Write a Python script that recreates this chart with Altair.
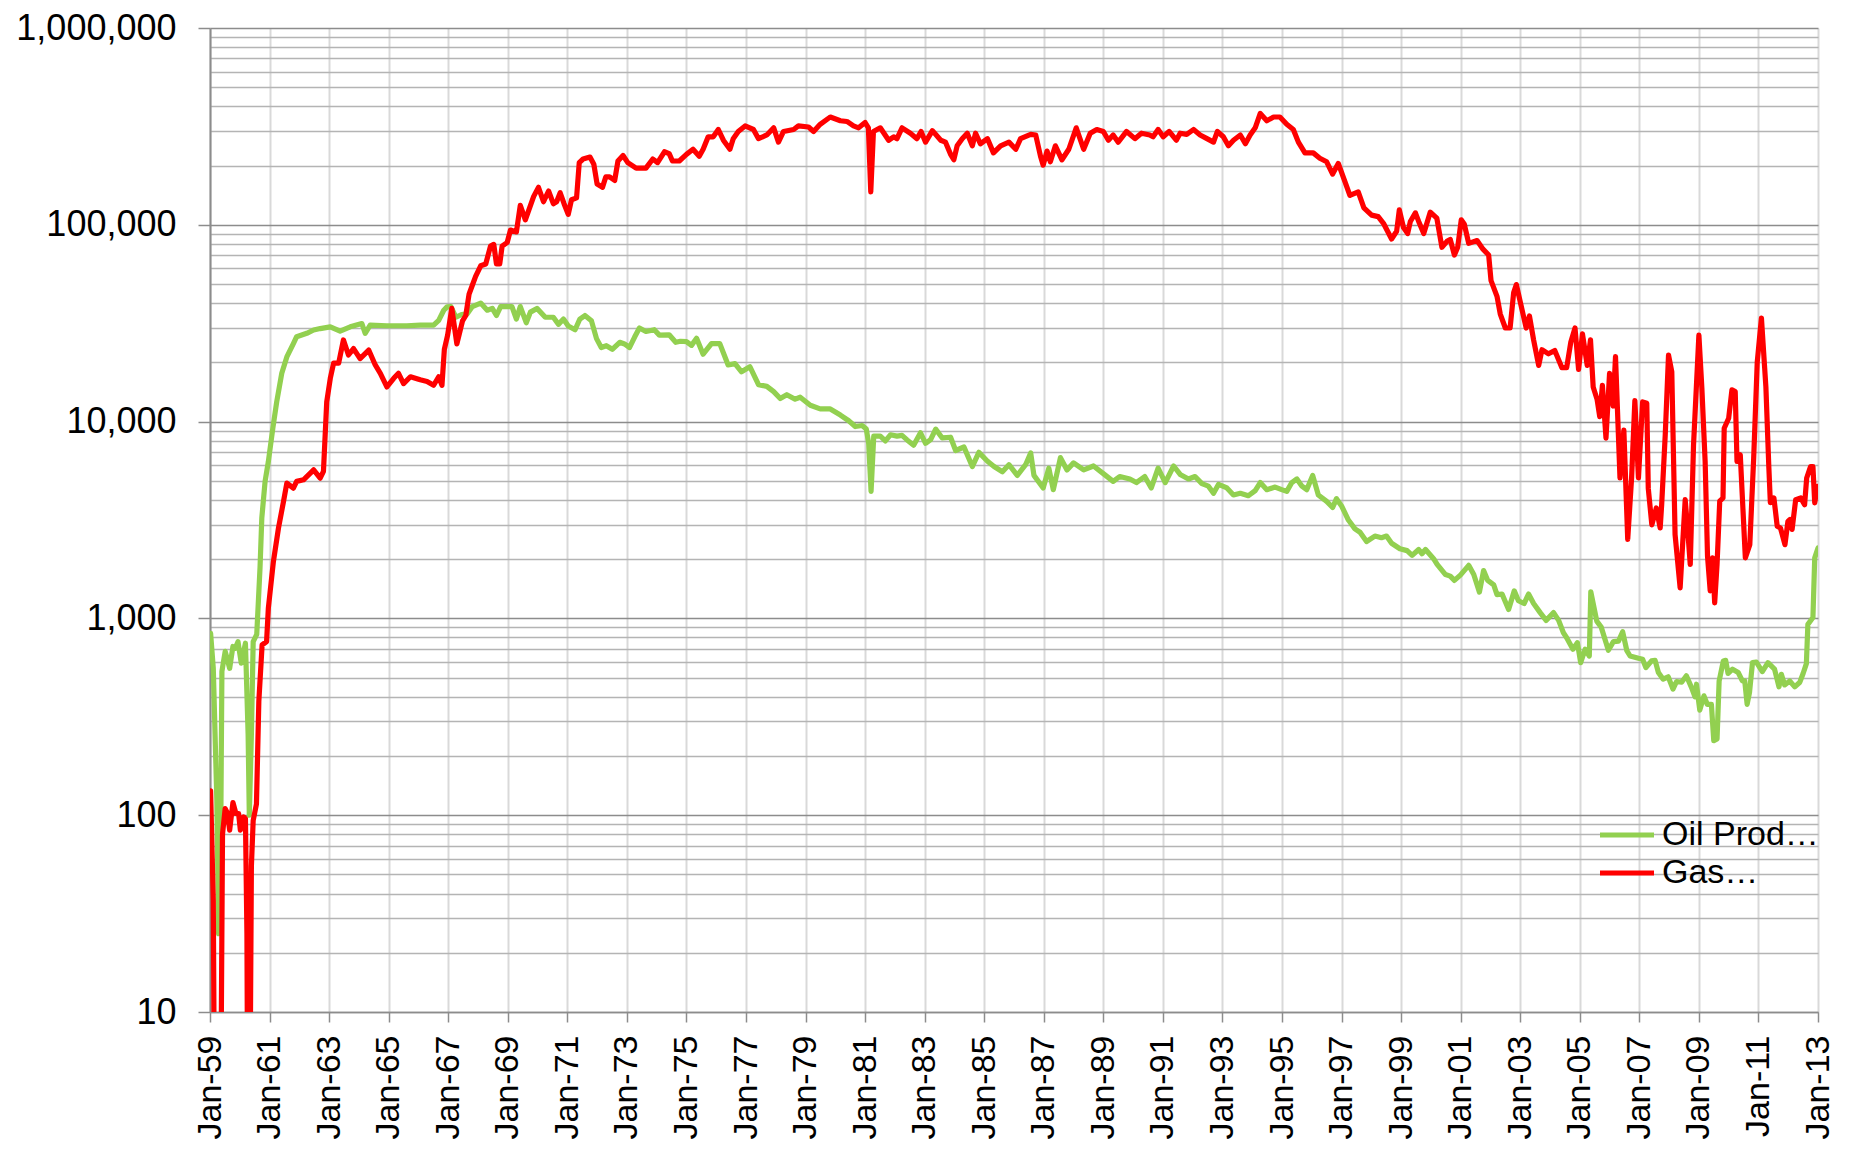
import altair as alt
import pandas as pd

# ---- Oil production (decimal year, value) ----
oil_years = [
    1959.02, 1959.11, 1959.23, 1959.29, 1959.36, 1959.40, 1959.51, 1959.66, 1959.77, 1959.85,
    1959.94, 1960.05, 1960.19, 1960.28, 1960.32, 1960.39, 1960.45, 1960.57, 1960.68, 1960.74,
    1960.85, 1960.96, 1961.11, 1961.24, 1961.41, 1961.58, 1961.80, 1961.91, 1962.25, 1962.48,
    1962.70, 1963.04, 1963.37, 1963.71, 1964.10, 1964.21, 1964.38, 1964.94, 1965.61, 1966.06,
    1966.51, 1966.68, 1966.85, 1966.96, 1967.09, 1967.26, 1967.45, 1967.64, 1967.81, 1968.09,
    1968.31, 1968.48, 1968.62, 1968.76, 1969.14, 1969.29, 1969.42, 1969.62, 1969.76, 1969.98,
    1970.26, 1970.53, 1970.70, 1970.87, 1971.03, 1971.26, 1971.42, 1971.59, 1971.81, 1971.98,
    1972.14, 1972.31, 1972.51, 1972.76, 1972.92, 1973.09, 1973.26, 1973.42, 1973.64, 1973.92,
    1974.09, 1974.42, 1974.64, 1974.80, 1975.00, 1975.17, 1975.34, 1975.56, 1975.84, 1976.12,
    1976.40, 1976.63, 1976.85, 1977.13, 1977.42, 1977.70, 1977.93, 1978.15, 1978.37, 1978.65,
    1978.82, 1979.16, 1979.49, 1979.83, 1980.17, 1980.45, 1980.67, 1980.90, 1981.04, 1981.12,
    1981.20, 1981.29, 1981.51, 1981.68, 1981.85, 1982.07, 1982.24, 1982.41, 1982.63, 1982.86,
    1983.03, 1983.20, 1983.37, 1983.59, 1983.87, 1984.04, 1984.32, 1984.60, 1984.82, 1985.11,
    1985.33, 1985.61, 1985.83, 1986.11, 1986.39, 1986.56, 1986.67, 1986.98, 1987.17, 1987.32,
    1987.56, 1987.78, 1988.00, 1988.34, 1988.67, 1989.00, 1989.33, 1989.55, 1989.89, 1990.11,
    1990.39, 1990.61, 1990.84, 1991.08, 1991.36, 1991.58, 1991.86, 1992.08, 1992.31, 1992.53,
    1992.70, 1992.87, 1993.15, 1993.37, 1993.60, 1993.87, 1994.10, 1994.27, 1994.49, 1994.77,
    1994.99, 1995.16, 1995.33, 1995.50, 1995.67, 1995.83, 1996.03, 1996.22, 1996.50, 1996.70,
    1996.83, 1997.00, 1997.23, 1997.45, 1997.62, 1997.84, 1998.12, 1998.34, 1998.51, 1998.68,
    1998.96, 1999.20, 1999.37, 1999.59, 1999.70, 1999.82, 2000.09, 2000.21, 2000.49, 2000.65,
    2000.79, 2000.99, 2001.27, 2001.44, 2001.63, 2001.77, 2001.91, 2002.11, 2002.22, 2002.39,
    2002.61, 2002.80, 2002.94, 2003.13, 2003.28, 2003.45, 2003.67, 2003.87, 2004.12, 2004.29,
    2004.45, 2004.56, 2004.77, 2004.92, 2005.03, 2005.18, 2005.32, 2005.37, 2005.57, 2005.72,
    2005.96, 2006.13, 2006.30, 2006.44, 2006.58, 2006.69, 2006.97, 2007.11, 2007.22, 2007.41,
    2007.53, 2007.64, 2007.80, 2007.97, 2008.13, 2008.25, 2008.42, 2008.58, 2008.75, 2008.87,
    2008.92, 2009.03, 2009.17, 2009.28, 2009.42, 2009.50, 2009.61, 2009.68, 2009.82, 2009.90,
    2009.98, 2010.13, 2010.32, 2010.46, 2010.54, 2010.62, 2010.70, 2010.80, 2010.93, 2011.13,
    2011.32, 2011.54, 2011.69, 2011.77, 2011.88, 2012.05, 2012.22, 2012.39, 2012.50, 2012.61,
    2012.66, 2012.83, 2012.89, 2013.00,
]
oil_values = [
    840, 558, 119, 25, 80, 538, 680, 558, 720, 705,
    762, 593, 748, 258, 100, 258, 762, 830, 1810, 3240,
    4970, 6270, 9250, 12600, 17600, 21300, 24900, 27000, 28100, 29200,
    29700, 30300, 28800, 30300, 31500, 28100, 30900, 30700, 30700, 30900,
    30900, 32700, 36800, 38300, 38400, 33900, 35000, 35300, 38400, 40000,
    36800, 37600, 34600, 38400, 38400, 33200, 38400, 31800, 36000, 37600,
    33900, 33900, 31200, 33200, 30600, 29300, 33200, 34600, 32500, 26400,
    23800, 24300, 23300, 25300, 24800, 23800, 26900, 29900, 28700, 29300,
    27500, 27600, 25300, 25600, 25500, 24400, 26500, 22000, 24900, 24900,
    19400, 19700, 17900, 19000, 15400, 15100, 14200, 13100, 13700, 13000,
    13300, 12100, 11600, 11600, 10800, 10100, 9440, 9550, 9160, 7760,
    4420, 8440, 8440, 7980, 8570, 8440, 8510, 8070, 7590, 8770,
    7760, 8090, 9160, 8260, 8330, 7130, 7430, 5910, 6980, 6290,
    5910, 5560, 6040, 5330, 6040, 6930, 5330, 4600, 5800, 4510,
    6560, 5680, 6170, 5680, 5950, 5440, 4970, 5260, 5110, 4900,
    5260, 4600, 5800, 4900, 5950, 5390, 5110, 5260, 4840, 4700,
    4320, 4800, 4600, 4240, 4320, 4200, 4460, 4900, 4510, 4650,
    4510, 4420, 4900, 5110, 4700, 4510, 5330, 4240, 3930, 3660,
    4060, 3730, 3160, 2850, 2740, 2460, 2620, 2570, 2620, 2410,
    2260, 2210, 2090, 2240, 2130, 2240, 2010, 1880, 1670, 1640,
    1560, 1660, 1860, 1670, 1360, 1750, 1560, 1480, 1320, 1330,
    1110, 1380, 1230, 1190, 1330, 1190, 1070, 977, 1070, 977,
    845, 798, 697, 753, 596, 697, 644, 1365, 969, 903,
    689, 762, 767, 856, 686, 644, 627, 620, 562, 608,
    612, 531, 491, 505, 437, 478, 474, 511, 446, 399,
    463, 342, 404, 366, 366, 239, 244, 481, 608, 612,
    525, 552, 531, 481, 481, 366, 420, 596, 600, 537,
    596, 552, 449, 520, 459, 481, 449, 474, 525, 589,
    933, 1010, 2030, 2280,
]

# ---- Gas (decimal year, value); 1 = below the axis minimum ----
gas_years = [
    1959.02, 1959.11, 1959.17, 1959.34, 1959.42, 1959.51, 1959.59, 1959.66, 1959.77, 1959.87,
    1959.96, 1960.02, 1960.13, 1960.19, 1960.24, 1960.28, 1960.32, 1960.39, 1960.45, 1960.56,
    1960.64, 1960.75, 1960.90, 1960.96, 1961.13, 1961.30, 1961.47, 1961.58, 1961.80, 1961.91,
    1962.14, 1962.48, 1962.70, 1962.81, 1962.92, 1963.04, 1963.15, 1963.32, 1963.48, 1963.65,
    1963.82, 1964.04, 1964.33, 1964.55, 1964.72, 1964.94, 1965.17, 1965.33, 1965.50, 1965.73,
    1966.06, 1966.29, 1966.51, 1966.68, 1966.79, 1966.87, 1966.98, 1967.12, 1967.29, 1967.48,
    1967.59, 1967.70, 1967.81, 1967.92, 1968.09, 1968.26, 1968.42, 1968.53, 1968.62, 1968.73,
    1968.81, 1968.98, 1969.09, 1969.29, 1969.42, 1969.59, 1969.70, 1969.87, 1970.03, 1970.20,
    1970.37, 1970.53, 1970.64, 1970.76, 1970.89, 1971.03, 1971.14, 1971.31, 1971.40, 1971.53,
    1971.76, 1971.89, 1972.00, 1972.18, 1972.29, 1972.42, 1972.59, 1972.70, 1972.87, 1973.03,
    1973.31, 1973.64, 1973.87, 1974.03, 1974.26, 1974.42, 1974.53, 1974.76, 1975.00, 1975.22,
    1975.43, 1975.56, 1975.73, 1975.90, 1976.07, 1976.24, 1976.46, 1976.57, 1976.74, 1976.97,
    1977.25, 1977.42, 1977.70, 1977.93, 1978.09, 1978.26, 1978.60, 1978.76, 1979.10, 1979.27,
    1979.49, 1979.83, 1980.17, 1980.39, 1980.61, 1980.78, 1981.00, 1981.11, 1981.19, 1981.28,
    1981.51, 1981.79, 1981.96, 1982.07, 1982.24, 1982.52, 1982.74, 1982.88, 1983.03, 1983.26,
    1983.54, 1983.70, 1983.87, 1983.98, 1984.09, 1984.26, 1984.43, 1984.60, 1984.71, 1984.87,
    1985.11, 1985.31, 1985.55, 1985.83, 1986.06, 1986.22, 1986.56, 1986.73, 1986.89, 1986.98,
    1987.11, 1987.22, 1987.39, 1987.61, 1987.84, 1988.09, 1988.34, 1988.56, 1988.78, 1989.00,
    1989.17, 1989.33, 1989.50, 1989.78, 1990.06, 1990.28, 1990.56, 1990.67, 1990.84, 1991.01,
    1991.21, 1991.45, 1991.58, 1991.80, 1992.03, 1992.25, 1992.48, 1992.70, 1992.83, 1993.03,
    1993.20, 1993.37, 1993.60, 1993.77, 1993.93, 1994.10, 1994.27, 1994.49, 1994.72, 1994.93,
    1995.16, 1995.38, 1995.55, 1995.77, 1996.05, 1996.27, 1996.50, 1996.70, 1996.89, 1997.11,
    1997.28, 1997.56, 1997.75, 1998.01, 1998.23, 1998.42, 1998.68, 1998.85, 1998.94, 1999.08,
    1999.22, 1999.31, 1999.48, 1999.59, 1999.76, 1999.98, 2000.20, 2000.37, 2000.54, 2000.65,
    2000.79, 2000.90, 2001.02, 2001.12, 2001.27, 2001.55, 2001.75, 2001.94, 2002.02, 2002.22,
    2002.33, 2002.50, 2002.66, 2002.78, 2002.87, 2003.02, 2003.20, 2003.31, 2003.45, 2003.62,
    2003.73, 2003.95, 2004.16, 2004.40, 2004.56, 2004.70, 2004.84, 2004.96, 2005.09, 2005.25,
    2005.36, 2005.45, 2005.58, 2005.67, 2005.76, 2005.88, 2006.00, 2006.12, 2006.20, 2006.35,
    2006.48, 2006.61, 2006.74, 2006.85, 2006.97, 2007.11, 2007.25, 2007.30, 2007.42, 2007.57,
    2007.70, 2007.75, 2007.87, 2007.98, 2008.09, 2008.20, 2008.37, 2008.54, 2008.62, 2008.71,
    2008.82, 2009.00, 2009.10, 2009.21, 2009.29, 2009.38, 2009.46, 2009.53, 2009.61, 2009.70,
    2009.81, 2009.85, 2010.00, 2010.11, 2010.22, 2010.28, 2010.39, 2010.56, 2010.71, 2010.84,
    2010.96, 2011.10, 2011.25, 2011.35, 2011.40, 2011.52, 2011.63, 2011.74, 2011.89, 2011.99,
    2012.06, 2012.13, 2012.25, 2012.42, 2012.55, 2012.62, 2012.75, 2012.83, 2012.89, 2012.98,
]
gas_values = [
    133, 37, 1, 1, 80, 108, 102, 84, 116, 102,
    102, 84, 98, 96, 25, 1, 1, 55, 94, 114,
    379, 733, 762, 1130, 1950, 2880, 3940, 4870, 4590, 4970,
    5060, 5690, 5160, 5580, 12600, 16600, 19800, 19800, 26000, 21800,
    23500, 20900, 23100, 19400, 17600, 15000, 16600, 17600, 15600, 16900,
    16300, 16000, 15300, 16900, 15300, 23300, 27500, 37600, 24800, 32500,
    34600, 44400, 49300, 54700, 61900, 63200, 77900, 79500, 63200, 63200,
    77900, 81300, 94000, 92000, 125700, 106000, 118000, 139500, 155000, 131000,
    148500, 128000, 131000, 145500, 128000, 113000, 134000, 137000, 207000, 216000,
    221000, 203000, 161000, 155000, 175000, 175000, 168000, 211000, 225000, 207000,
    194000, 194000, 216000, 207000, 235000, 230000, 211000, 211000, 228000, 242000,
    223000, 242000, 280000, 280000, 305000, 269000, 242000, 274000, 298000, 318000,
    305000, 274000, 286000, 311000, 263000, 298000, 305000, 318000, 314000, 298000,
    324000, 353000, 338000, 335000, 318000, 311000, 331000, 311000, 147000, 298000,
    311000, 269000, 280000, 274000, 311000, 292000, 274000, 298000, 263000, 301000,
    269000, 263000, 228000, 214000, 252000, 274000, 292000, 252000, 292000, 258000,
    274000, 232000, 252000, 263000, 242000, 274000, 288000, 286000, 223000, 201000,
    237000, 209000, 252000, 214000, 242000, 311000, 242000, 292000, 305000, 298000,
    269000, 286000, 263000, 298000, 274000, 292000, 286000, 280000, 305000, 280000,
    298000, 269000, 292000, 288000, 305000, 286000, 274000, 263000, 298000, 280000,
    252000, 269000, 286000, 258000, 286000, 311000, 368000, 338000, 353000, 353000,
    324000, 305000, 263000, 232000, 232000, 218000, 209000, 181000, 205000, 166000,
    141000, 147000, 122000, 112000, 110000, 101000, 84700, 92700, 119000, 96800,
    90300, 104000, 115000, 104000, 90300, 116000, 108000, 76900, 82400, 84300,
    70200, 76900, 106000, 101000, 80500, 83200, 75200, 70200, 52000, 43300,
    35200, 29900, 29900, 45300, 49700, 39400, 29900, 34400, 26000, 19300,
    23200, 22100, 23000, 18800, 18800, 25400, 29900, 18400, 27900, 19300,
    26000, 15000, 13000, 10600, 15300, 8240, 17600, 12000, 21400, 5170,
    9050, 2520, 5170, 12800, 5170, 12600, 12400, 4590, 2990, 3640,
    2880, 3780, 8550, 21800, 17900, 2670, 1430, 4010, 2880, 1880,
    7620, 27500, 14800, 6270, 2070, 1380, 2030, 1200, 1880, 3940,
    4090, 9250, 10400, 14500, 14200, 6270, 6780, 2030, 2370, 6520,
    20100, 33600, 15000, 5810, 3870, 4090, 2940, 2880, 2370, 3110,
    3180, 2830, 4010, 4090, 3780, 5170, 5910, 5910, 3860, 4690,
]

series_names = ["Oil Prod…", "Gas…"]
series_colors = ["#92D050", "#FF0000"]
x_tick_years = list(range(1959, 2014, 2))
decades = [10, 100, 1000, 10000, 100000, 1000000]
y_tick_values = [m * d for d in decades[:-1] for m in range(1, 10)] + [decades[-1]]

df = pd.DataFrame({
    "year": oil_years + gas_years,
    "value": oil_values + gas_values,
    "series": [series_names[0]] * len(oil_years) + [series_names[1]] * len(gas_years),
})

FONT = "Liberation Sans"
is_decade = "indexof([10,100,1000,10000,100000,1000000], datum.value) >= 0"

x_axis = alt.Axis(
    values=x_tick_years,
    labelExpr="'Jan-' + slice(toString(datum.value), 2)",
    labelAngle=-90,
    labelFont=FONT,
    labelFontSize=34,
    labelColor="#000000",
    labelPadding=13,
    labelFlush=False,
    labelOverlap=False,
    tickSize=10,
    tickColor="#8c8c8c",
    tickWidth=1.5,
    domainColor="#8c8c8c",
    domainWidth=1.5,
    grid=True,
    gridColor="#d9d9d9",
    gridWidth=2,
    title=None,
)

y_axis = alt.Axis(
    values=y_tick_values,
    labelExpr=is_decade + " ? format(datum.value, ',') : ''",
    labelFont=FONT,
    labelFontSize=36,
    labelColor="#000000",
    labelPadding=22,
    labelOverlap=False,
    labelFlush=False,
    tickSize=12,
    tickWidth=1.5,
    tickColor={"condition": {"test": is_decade, "value": "#8c8c8c"}, "value": "transparent"},
    domainColor="#8c8c8c",
    domainWidth=2,
    grid=True,
    gridColor={"condition": {"test": is_decade, "value": "#8c8c8c"}, "value": "#b4b4b4"},
    gridWidth=1.6,
    title=None,
)

base = alt.Chart(df).mark_line(
    strokeWidth=5.2, clip=True, strokeJoin="round", strokeCap="round"
).encode(
    x=alt.X("year:Q", scale=alt.Scale(domain=[1959, 2013], nice=False, zero=False), axis=x_axis),
    y=alt.Y("value:Q", scale=alt.Scale(type="log", domain=[10, 1000000], nice=False), axis=y_axis),
    color=alt.Color(
        "series:N",
        scale=alt.Scale(domain=series_names, range=series_colors),
        legend=alt.Legend(
            title=None,
            orient="none",
            legendX=1400,
            legendY=790,
            symbolType="M-2,0H2",
            symbolSize=729,
            symbolStrokeWidth=5,
            symbolFillColor="transparent",
            labelFont=FONT,
            labelFontSize=34,
            labelColor="#000000",
            labelLimit=500,
            labelOffset=18,
            rowPadding=4,
            padding=0,
        ),
    ),
)

oil_layer = base.transform_filter(alt.datum.series == series_names[0])
gas_layer = base.transform_filter(alt.datum.series == series_names[1])

chart = alt.layer(oil_layer, gas_layer).properties(
    width=1608,
    height=984,
    autosize=alt.AutoSizeParams(type="none"),
    padding={"left": 202, "top": 20, "right": 24, "bottom": 137},
).configure_view(stroke=None)

chart.save("out.html", embed_options={"renderer": "svg", "actions": False})
